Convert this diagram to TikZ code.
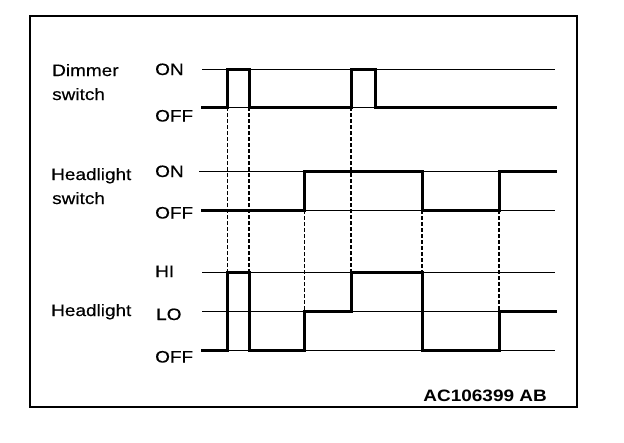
\documentclass[tikz,border=0pt]{standalone}
\usepackage{fontspec}
\setmainfont{Liberation Sans}[FakeStretch=1.15]
\newfontfamily\lblfont{Liberation Sans}[FakeStretch=1.15,FakeBold=0.35]
\begin{document}
\begin{tikzpicture}[x=1pt,y=-1pt,
  lbl/.style={anchor=base west,inner sep=0pt,font=\lblfont\fontsize{16.5}{18}\selectfont},
  guide/.style={line width=0.9pt},
  sig/.style={line width=3pt,line join=miter,line cap=rect},
  dthin/.style={line width=0.8pt,dash pattern=on 3.5pt off 2.5pt},
  dthick/.style={line width=1.6pt,dash pattern=on 3.5pt off 2.5pt}]
\useasboundingbox (0,0) rectangle (624,442);
\draw[line width=2pt] (30,16) rectangle (577,407);
% labels
\node[lbl] (dim1) at (52,76) {Dimmer};
\node[lbl] (dim2) at (52,100) {switch};
\node[lbl] (hs1) at (51,180) {Headlight};
\node[lbl] (hs2) at (52,204) {switch};
\node[lbl] (hl) at (51,316) {Headlight};
\node[lbl] (don) at (155,75) {ON};
\node[lbl] (doff) at (155,121.5) {OFF};
\node[lbl] (son) at (155,177) {ON};
\node[lbl] (soff) at (155,218.5) {OFF};
\node[lbl] (hhi) at (155,277) {HI};
\node[lbl] (hlo) at (156,320) {LO};
\node[lbl] (hoff) at (155,362.5) {OFF};
\node[anchor=base east,inner sep=0pt,font=\fontsize{16.5}{18}\selectfont\bfseries] (code) at (547,401.5) {AC106399 AB};
% guide lines
\draw[guide] (202,69) -- (555,69);
\draw[guide] (202,107) -- (555,107);
\draw[guide] (199,171) -- (555,171);
\draw[guide] (202,210) -- (555,210);
\draw[guide] (202,272) -- (555,272);
\draw[guide] (202,311) -- (555,311);
\draw[guide] (202,350) -- (555,350);
% dashed timing lines
\draw[dthin] (227,107) -- (227,272);
\draw[dthick] (249,107) -- (249,272);
\draw[dthin] (304,210) -- (304,311);
\draw[dthick] (351,107) -- (351,272);
\draw[dthick] (422,210) -- (422,272);
\draw[dthick] (499,210) -- (499,311);
% signals
\draw[sig] (202,107) -- (227,107) -- (227,69) -- (249,69) -- (249,107) -- (351,107) -- (351,69) -- (375,69) -- (375,107) -- (555,107);
\draw[sig] (202,210) -- (304,210) -- (304,171) -- (422,171) -- (422,210) -- (499,210) -- (499,171) -- (555,171);
\draw[sig] (202,350) -- (227,350) -- (227,272) -- (249,272) -- (249,350) -- (304,350) -- (304,311) -- (351,311) -- (351,272) -- (422,272) -- (422,350) -- (499,350) -- (499,311) -- (555,311);
\end{tikzpicture}
\end{document}
